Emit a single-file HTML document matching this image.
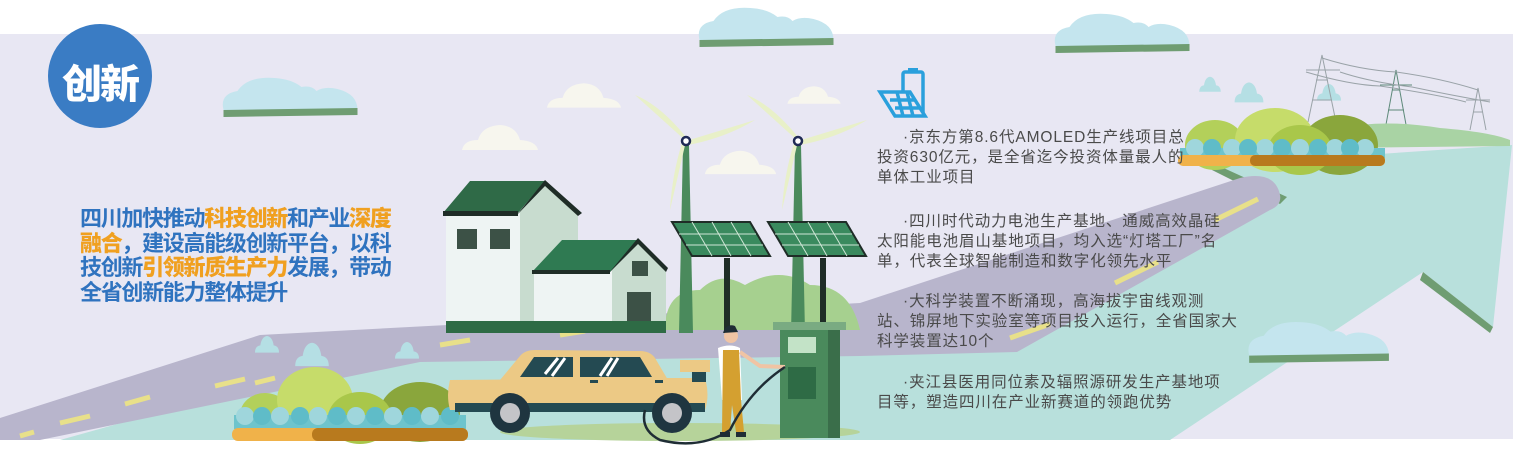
<!DOCTYPE html>
<html><head><meta charset="utf-8"><style>
html,body{margin:0;padding:0;background:#fff;}
#w{position:relative;width:1513px;height:453px;overflow:hidden;background:#fff;font-family:"Liberation Sans","Noto Sans CJK SC",sans-serif;}
svg{position:absolute;left:0;top:0;}
.lt{position:absolute;left:80px;top:207px;font-size:22px;font-weight:bold;color:#2f73bf;line-height:24.5px;white-space:nowrap;letter-spacing:-1.3px;}
.lt b{color:#f0a020;}
.rt{position:absolute;left:877px;font-size:15.5px;color:#4a4a4a;line-height:20px;white-space:nowrap;letter-spacing:0.9px;}
.tt{position:absolute;left:62px;top:52px;font-size:40px;font-weight:900;color:#fff;letter-spacing:-2px;font-family:"Noto Sans CJK SC",sans-serif;}
</style></head><body><div id="w">
<svg width="1513" height="453" viewBox="0 0 1513 453">
<defs>
<symbol id="cl" viewBox="0 0 140 44">
<path d="M4 36 Q0 20 18 17 Q28 2 55 4 Q72 5 82 13 Q92 11 97 17 Q105 12 118 15 Q138 20 138 36 Z" fill="#c4e5ee"/>
<path d="M4 36 L138 34 L138 41 L4 43 Z" fill="#6f9d72"/>
</symbol>
<symbol id="wc" viewBox="0 0 80 32">
<path d="M2 30 Q4 20 18 20 Q22 6 40 5 Q56 6 60 20 Q76 21 78 30 Z" fill="#f7f6ee"/>
</symbol>
<symbol id="bc" viewBox="0 0 40 30">
<path d="M2 28 Q2 18 10 17 Q12 4 20 3 Q28 4 30 17 Q38 18 38 28 Z" fill="#b5dfe4"/>
</symbol>
</defs>
<rect x="0" y="34" width="1513" height="405" fill="#e8e7f3"/>
<polygon points="60,440 400,345 860,330 1270,195 1217,165 1512,145 1493,327 1423,272 1170,440" fill="#b8e0dc"/>
<polygon points="1217,165 1287,197 1280,204 1212,170" fill="#6f9d72"/>
<polygon points="1423,272 1493,327 1490,333 1420,280" fill="#6f9d72"/>
<path d="M0 418 L260 335 L860 303 L1240 178 Q1275 170 1280 195 Q1282 205 1270 210 L1017 352 L860 356 L420 362 L40 440 L0 440 Z" fill="#b8b5cc"/>
<g stroke="#e8e08a" stroke-width="5">
<line x1="20" y1="436" x2="34" y2="432"/><line x1="60" y1="423" x2="90" y2="416"/>
<line x1="125" y1="404" x2="150" y2="397"/><line x1="215" y1="386" x2="245" y2="379"/>
<line x1="440" y1="345" x2="470" y2="340"/><line x1="560" y1="335" x2="585" y2="331"/>
<line x1="1010" y1="338" x2="1050" y2="324"/><line x1="1115" y1="283" x2="1158" y2="262"/>
<line x1="1215" y1="220" x2="1258" y2="199"/><line x1="255" y1="383" x2="275" y2="378"/>
</g>
<use href="#cl" x="695" y="4" width="141" height="44"/>
<use href="#cl" x="1051" y="10" width="141" height="44"/>
<use href="#cl" x="216" y="74" width="147" height="44"/>
<use href="#cl" x="1245" y="318" width="146" height="46"/>
<use href="#wc" x="545" y="78" width="78" height="32"/>
<use href="#wc" x="460" y="120" width="80" height="32"/>
<use href="#wc" x="703" y="145" width="75" height="32"/>
<use href="#wc" x="786" y="80" width="56" height="28"/>
<use href="#bc" x="252" y="334" width="30" height="20"/>
<use href="#bc" x="286" y="340" width="52" height="28"/>
<use href="#bc" x="392" y="340" width="30" height="20"/>
<use href="#bc" x="1196" y="75" width="28" height="18"/>
<use href="#bc" x="1226" y="80" width="46" height="24"/>
<use href="#bc" x="1314" y="82" width="30" height="20"/>
<g stroke="#9aa3a8" stroke-width="1" fill="none">
<path d="M1308 122 L1322 55 L1336 122 M1312 100 H1332 M1316 80 H1328 M1306 70 H1340"/>
<path d="M1385 130 L1396 70 L1407 130 M1388 110 H1404 M1392 90 H1400 M1380 85 H1412" stroke="#5e8a7a"/>
<path d="M1470 130 L1478 88 L1486 130 M1473 112 H1483 M1466 100 H1490"/>
<path d="M1322 58 Q1360 70 1396 72 Q1440 78 1478 90 M1306 72 Q1350 85 1380 86 Q1440 95 1466 102 M1340 72 Q1370 82 1412 87 Q1450 95 1490 102"/>
</g>
<path d="M1330 130 Q1380 118 1440 128 Q1490 132 1510 140 L1510 146 L1330 148 Z" fill="#a9d3a4"/>
<g>
<ellipse cx="1215" cy="145" rx="30" ry="25" fill="#b3d05a"/>
<ellipse cx="1275" cy="140" rx="40" ry="32" fill="#c6dc6a"/>
<ellipse cx="1340" cy="145" rx="38" ry="30" fill="#8aa63c"/>
<ellipse cx="1300" cy="150" rx="32" ry="25" fill="#a9c74a"/>
<rect x="1180" y="148" width="205" height="10" fill="#6ec4cc"/>
<g fill="#9fd6dc"><circle cx="1195" cy="148" r="9"/><circle cx="1232" cy="148" r="9"/><circle cx="1265" cy="148" r="9"/><circle cx="1300" cy="148" r="9"/><circle cx="1335" cy="148" r="9"/><circle cx="1365" cy="148" r="9"/></g>
<g fill="#5fbcc8"><circle cx="1212" cy="148" r="9"/><circle cx="1248" cy="148" r="9"/><circle cx="1282" cy="148" r="9"/><circle cx="1318" cy="148" r="9"/><circle cx="1350" cy="148" r="9"/></g>
<rect x="1178" y="155" width="207" height="11" rx="5" fill="#f0b24a"/>
<rect x="1250" y="155" width="135" height="11" rx="5" fill="#b87a1e"/>
</g>
<path d="M665 330 Q665 290 700 290 Q720 270 745 285 Q780 265 810 285 Q850 285 860 330 Z" fill="#a6d08f"/>
<rect x="446" y="211" width="130" height="122" fill="#eef4f3"/>
<polygon points="520,211 545,185 578,213 578,333 520,333" fill="#c8dccf"/>
<polygon points="443,213 470,181 545,181 518,213" fill="#2f6a47"/>
<polygon points="443,211 518,211 518,216 443,216" fill="#1f2d27"/>
<polygon points="516,216 545,180 582,213 578,216 545,186" fill="#1f2d27"/>
<rect x="457" y="229" width="20" height="20" fill="#3c5146"/>
<rect x="490" y="229" width="20" height="20" fill="#3c5146"/>
<rect x="534" y="270" width="80" height="63" fill="#eef4f3"/>
<polygon points="612,268 638,242 666,268 666,333 612,333" fill="#c8dccf"/>
<polygon points="532,272 562,240 640,240 610,272" fill="#2f7a52"/>
<polygon points="532,270 610,270 610,274 532,274" fill="#1f2d27"/>
<polygon points="608,274 638,238 668,268 666,272 638,244" fill="#1f2d27"/>
<rect x="632" y="261" width="16" height="15" fill="#3c5146"/>
<rect x="627" y="292" width="24" height="41" fill="#3c5146"/>
<rect x="446" y="321" width="220" height="12" fill="#2e6b45"/>
<g>
<polygon points="683,145 689,145 693,333 679,333" fill="#4a8a5c"/>
<polygon points="795,145 801,145 805,333 791,333" fill="#4a8a5c"/>
<g fill="#e8f0c8">
<path d="M686 141 L635 95 Q660 105 686 137 Z"/><path d="M686 141 L755 120 Q725 138 688 145 Z"/><path d="M686 141 L670 210 Q672 175 682 143 Z"/>
<path d="M798 141 L747 95 Q772 105 798 137 Z"/><path d="M798 141 L867 120 Q837 138 800 145 Z"/><path d="M798 141 L782 210 Q784 175 794 143 Z"/>
</g>
<circle cx="686" cy="141" r="4" fill="#fff" stroke="#1f2a55" stroke-width="2.5"/>
<circle cx="798" cy="141" r="4" fill="#fff" stroke="#1f2a55" stroke-width="2.5"/>
<rect x="724" y="258" width="6" height="75" fill="#1f2d27"/>
<rect x="820" y="258" width="6" height="75" fill="#1f2d27"/>
<polygon points="672,222 750,222 770,256 692,256" fill="#3a8a5e" stroke="#1f2d27" stroke-width="2"/>
<polygon points="768,222 846,222 866,256 788,256" fill="#3a8a5e" stroke="#1f2d27" stroke-width="2"/>
<g stroke="#cfe6d6" stroke-width="1"><path d="M679 234 H756 M686 245 H763 M692 222 L712 256 M712 222 L731 256 M731 222 L751 256"/><path d="M775 234 H852 M782 245 H859 M788 222 L808 256 M808 222 L827 256 M827 222 L847 256"/></g>
</g>
<g>
<ellipse cx="265" cy="415" rx="25" ry="22" fill="#b3d05a"/>
<ellipse cx="315" cy="400" rx="38" ry="33" fill="#c6dc6a"/>
<ellipse cx="420" cy="412" rx="40" ry="30" fill="#8aa63c"/>
<ellipse cx="360" cy="418" rx="32" ry="26" fill="#a9c74a"/>
<rect x="234" y="415" width="232" height="14" fill="#6ec4cc"/>
<g fill="#9fd6dc"><circle cx="245" cy="416" r="9"/><circle cx="280" cy="416" r="9"/><circle cx="318" cy="416" r="9"/><circle cx="356" cy="416" r="9"/><circle cx="393" cy="416" r="9"/><circle cx="430" cy="416" r="9"/></g>
<g fill="#5fbcc8"><circle cx="262" cy="416" r="9"/><circle cx="300" cy="416" r="9"/><circle cx="337" cy="416" r="9"/><circle cx="375" cy="416" r="9"/><circle cx="412" cy="416" r="9"/><circle cx="450" cy="416" r="9"/></g>
<rect x="232" y="428" width="236" height="13" rx="6" fill="#f0b24a"/>
<rect x="312" y="428" width="156" height="13" rx="6" fill="#b87a1e"/>
</g>
<ellipse cx="680" cy="432" rx="180" ry="9" fill="#b6d39a"/>
<g>
<path d="M450 380 Q446 395 450 410 L705 410 Q710 395 705 378 L668 378 Z" fill="#ecc985"/>
<path d="M500 380 L520 356 Q525 350 535 350 L640 351 Q650 351 655 358 L668 380 Z" fill="#ecc985"/>
<path d="M520 377 L534 357 L573 357 L573 377 Z" fill="#244a52"/>
<path d="M580 377 L580 357 L640 357 L652 377 Z" fill="#244a52"/>
<g stroke="#fff" stroke-width="3"><line x1="545" y1="374" x2="558" y2="358"/><line x1="552" y1="376" x2="565" y2="358"/><line x1="600" y1="376" x2="612" y2="358"/><line x1="607" y1="376" x2="618" y2="358"/></g>
<rect x="680" y="360" width="30" height="12" fill="#ecc985"/>
<rect x="692" y="372" width="14" height="10" fill="#244a52"/>
<rect x="455" y="403" width="250" height="9" fill="#244a52"/>
<circle cx="510" cy="413" r="20" fill="#1f3540"/><circle cx="510" cy="413" r="10" fill="#c4c4c8"/>
<circle cx="672" cy="413" r="20" fill="#1f3540"/><circle cx="672" cy="413" r="10" fill="#c4c4c8"/>
<rect x="590" y="380" width="8" height="3" fill="#244a52"/><rect x="655" y="380" width="8" height="3" fill="#244a52"/>
</g>
<rect x="773" y="322" width="73" height="8" fill="#7aab82"/>
<rect x="780" y="330" width="60" height="108" fill="#4a8a5c"/>
<rect x="828" y="330" width="12" height="108" fill="#3a6e4a"/>
<rect x="788" y="337" width="28" height="16" fill="#c3e3c7"/>
<rect x="788" y="367" width="28" height="32" fill="#2e6b45"/>
<g>
<circle cx="731" cy="336" r="7" fill="#f0c4a4"/><path d="M723 333 Q726 323 735 326 L738 332 Z" fill="#1f2d35"/>
<path d="M718 348 Q730 343 740 348 L742 400 L722 400 Z" fill="#fff"/>
<path d="M723 350 L739 350 L741 400 L744 432 L736 432 L732 405 L730 432 L722 432 Z" fill="#d4a030"/>
<path d="M740 352 L760 366 L785 367" stroke="#f0c4a4" stroke-width="4" fill="none"/>
<rect x="720" y="432" width="10" height="5" fill="#1f2d35"/><rect x="736" y="432" width="10" height="5" fill="#1f2d35"/>
<path d="M785 367 Q750 390 730 430 Q700 450 660 440 Q640 430 645 410" stroke="#1f2d35" stroke-width="2.5" fill="none"/>
</g>
<circle cx="100" cy="76" r="52" fill="#3a7cc4"/>
<g fill="none" stroke="#2aa0dc" stroke-width="3.5">
<rect x="903" y="72" width="20" height="42" rx="2"/>
<path d="M880 92 L910 92 L925 116 L895 116 Z" fill="#e8e7f3"/>
<path d="M890 100 H915 M895 108 H920 M897 92 L903 116 M907 92 L913 116"/>
</g>
<rect x="908" y="68" width="10" height="4" fill="#2aa0dc"/>
</svg>
<div class="tt">创新</div>
<div class="lt">四川加快推动<b>科技创新</b>和产业<b>深度</b><br><b>融合</b>，建设高能级创新平台，以科<br>技创新<b>引领新质生产力</b>发展，带动<br>全省创新能力整体提升</div>
<div class="rt" style="top:128px">&nbsp;&nbsp;&nbsp;&nbsp;&nbsp;·京东方第8.6代AMOLED生产线项目总<br>投资630亿元，是全省迄今投资体量最人的<br>单体工业项目</div>
<div class="rt" style="top:212px">&nbsp;&nbsp;&nbsp;&nbsp;&nbsp;·四川时代动力电池生产基地、通威高效晶硅<br>太阳能电池眉山基地项目，均入选“灯塔工厂”名<br>单，代表全球智能制造和数字化领先水平</div>
<div class="rt" style="top:292px">&nbsp;&nbsp;&nbsp;&nbsp;&nbsp;·大科学装置不断涌现，高海拔宇宙线观测<br>站、锦屏地下实验室等项目投入运行，全省国家大<br>科学装置达10个</div>
<div class="rt" style="top:373px">&nbsp;&nbsp;&nbsp;&nbsp;&nbsp;·夹江县医用同位素及辐照源研发生产基地项<br>目等，塑造四川在产业新赛道的领跑优势</div>
</div></body></html>
